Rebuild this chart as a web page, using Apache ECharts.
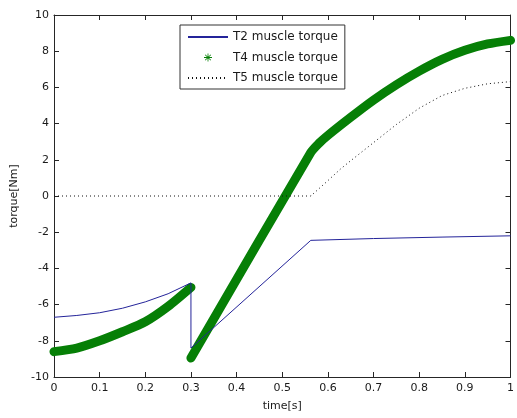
<!DOCTYPE html>
<html>
<head>
<meta charset="utf-8">
<script src="https://cdn.jsdelivr.net/npm/echarts@6/dist/echarts.min.js"></script>
<style>
  html, body { margin: 0; padding: 0; background: #fff; }
  #chart { width: 517px; height: 418px; }
</style>
</head>
<body>
<div id="chart"></div>
<script>
// T2 muscle torque (blue thin line), drop at t = 0.3
const t2Time = [0, 0.05, 0.1, 0.15, 0.2, 0.25, 0.3, 0.3, 0.5625, 0.7, 0.85, 1.0]
const t2Torque = [-6.7, -6.6, -6.45, -6.2, -5.85, -5.4, -4.8, -8.4, -2.45, -2.35, -2.27, -2.2]

// T4 muscle torque (green stars), two pieces split at t = 0.3
const t4Time = [0, 0.05, 0.1, 0.15, 0.2, 0.25, 0.3, 0.3, 0.3, 0.5625, 0.58, 0.6, 0.65, 0.7, 0.75, 0.8, 0.85, 0.9, 0.95, 1.0]
const t4Torque = [-8.6, -8.4, -8.0, -7.5, -6.95, -6.1, -5.05, '-', -8.95, 2.4, 2.9, 3.35, 4.35, 5.3, 6.15, 6.9, 7.55, 8.05, 8.4, 8.6]

// T5 muscle torque (dotted)
const t5Time = [0, 0.5625, 0.6, 0.628, 0.65, 0.7, 0.75, 0.8, 0.85, 0.9, 0.95, 1.0]
const t5Torque = [0, 0, 0.85, 1.5, 1.95, 2.95, 3.95, 4.85, 5.55, 5.95, 6.2, 6.32]

const pairs = (xs, ys) => xs.map((x, i) => [x, ys[i]])

const chart = echarts.init(document.getElementById('chart'), null, { renderer: 'canvas' })

const axisColor = '#262626'
const fontFamily = 'DejaVu Sans'
const starIcon = 'path://M4.5 0h1v10h-1z M0 4.5h10v1h-10z M1.1 1.8l0.7-0.7 7.1 7.1-0.7 0.7z M8.2 1.1l0.7 0.7-7.1 7.1-0.7-0.7z'

// box style axis (MATLAB look): ticks inside, never snapped to zero
const boxAxis = (extra) => Object.assign({
  axisLine: { show: true, onZero: false, lineStyle: { color: axisColor, width: 1 } },
  axisTick: { show: true, inside: true, length: 5, lineStyle: { color: axisColor } },
  splitLine: { show: false }
}, extra)

const option = {
  animation: false,
  backgroundColor: '#fff',
  grid: { left: 54, right: 2, top: 15, bottom: 41, containLabel: false },
  legend: {
    orient: 'vertical',
    left: 180,
    top: 25,
    padding: [5, 7, 4, 7],
    itemWidth: 40,
    itemHeight: 8,
    itemGap: 6.5,
    backgroundColor: '#fff',
    borderColor: '#333',
    borderWidth: 1,
    borderRadius: 0,
    textStyle: { fontFamily: fontFamily, fontSize: 12, color: '#1a1a1a', lineHeight: 14 },
    data: [
      { name: 'T2 muscle torque', itemStyle: { opacity: 0 } },
      { name: 'T4 muscle torque', icon: starIcon },
      { name: 'T5 muscle torque', itemStyle: { opacity: 0 } }
    ]
  },
  xAxis: [
    boxAxis({
      type: 'value', min: 0, max: 1, interval: 0.1, position: 'bottom',
      name: 'time[s]', nameLocation: 'middle', nameGap: 24,
      nameTextStyle: { fontFamily: fontFamily, fontSize: 11, color: '#1a1a1a' },
      axisLabel: { fontFamily: fontFamily, fontSize: 11, color: '#1a1a1a', margin: 6 }
    }),
    boxAxis({
      type: 'value', min: 0, max: 1, interval: 0.1, position: 'top',
      axisLabel: { show: false }
    })
  ],
  yAxis: [
    boxAxis({
      type: 'value', min: -10, max: 10, interval: 2, position: 'left',
      name: 'torque[Nm]', nameLocation: 'middle', nameGap: 33,
      nameTextStyle: { fontFamily: fontFamily, fontSize: 11, color: '#1a1a1a' },
      axisLabel: { fontFamily: fontFamily, fontSize: 11, color: '#1a1a1a', margin: 5 }
    }),
    boxAxis({
      type: 'value', min: -10, max: 10, interval: 2, position: 'right',
      axisLabel: { show: false }
    })
  ],
  series: [
    {
      name: 'T4 muscle torque',
      type: 'line',
      symbol: 'none',
      smooth: 0.25,
      connectNulls: false,
      color: '#067f06',
      lineStyle: { width: 9, color: '#067f06', cap: 'round', join: 'round' },
      itemStyle: { color: '#067f06' },
      data: pairs(t4Time, t4Torque),
      z: 2
    },
    {
      name: 'T2 muscle torque',
      type: 'line',
      symbol: 'none',
      color: '#24249a',
      lineStyle: { width: 1, color: '#24249a' },
      data: pairs(t2Time, t2Torque),
      z: 3
    },
    {
      name: 'T5 muscle torque',
      type: 'line',
      symbol: 'none',
      color: '#111',
      lineStyle: { width: 1, color: '#111', type: [1, 3] },
      data: pairs(t5Time, t5Torque),
      z: 3
    }
  ]
}

chart.setOption(option)
</script>
</body>
</html>
